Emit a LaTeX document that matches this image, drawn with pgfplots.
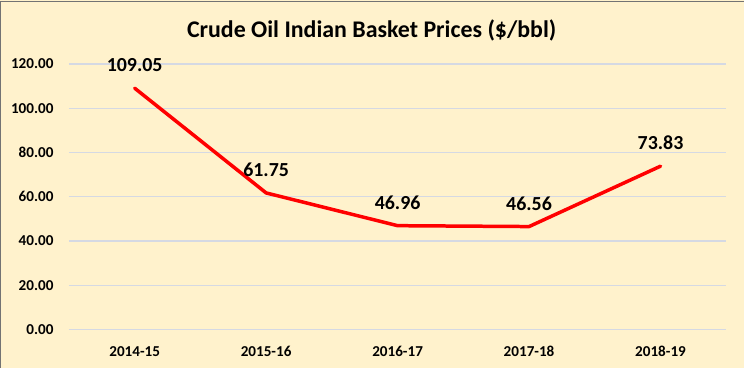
\documentclass[border=0pt]{standalone}
\usepackage{pgfplots}
\pgfplotsset{compat=1.18}
\usepackage{fontspec}
\setmainfont{Carlito}
\definecolor{bg}{HTML}{FFF2CC}
\definecolor{gridc}{HTML}{D5D9E3}
\begin{document}
\begin{tikzpicture}
\fill[bg] (-69bp,-38bp) rectangle (676bp,330bp);
\draw[black!55, line width=1.5bp] (-68.25bp,-38bp) -- (-68.25bp,328.5bp) -- (676bp,328.5bp);
\node[font=\fontsize{24}{26}\selectfont\bfseries, anchor=base] at (303bp,292bp) {Crude Oil Indian Basket Prices (\$/bbl)};
\begin{axis}[
  scale only axis, width=658bp, height=266bp,
  xmin=-0.5, xmax=4.5, ymin=0, ymax=120,
  ytick={0,20,...,120},
  xtick={0,1,2,3,4},
  xticklabels={2014-15,2015-16,2016-17,2017-18,2018-19},
  axis line style={draw=none},
  major tick style={draw=none},
  ymajorgrids,
  grid style={gridc, line width=1.2bp},
  /pgf/number format/.cd, fixed, fixed zerofill, precision=2, assume math mode=true,
  /pgfplots/.cd,
  ticklabel style={font=\fontsize{15.2}{17}\selectfont\bfseries},
  yticklabel style={xshift=-12bp},
  xticklabel style={yshift=-13bp},
  clip=false,
]
\addplot[red, line width=3.5bp, line join=round, line cap=round,
  nodes near coords,
  every node near coord/.append style={font=\fontsize{20}{22}\selectfont\bfseries, black, anchor=center, yshift=23bp},
] coordinates {(0,109.05) (1,61.75) (2,46.96) (3,46.56) (4,73.83)};
\end{axis}
\end{tikzpicture}
\end{document}
